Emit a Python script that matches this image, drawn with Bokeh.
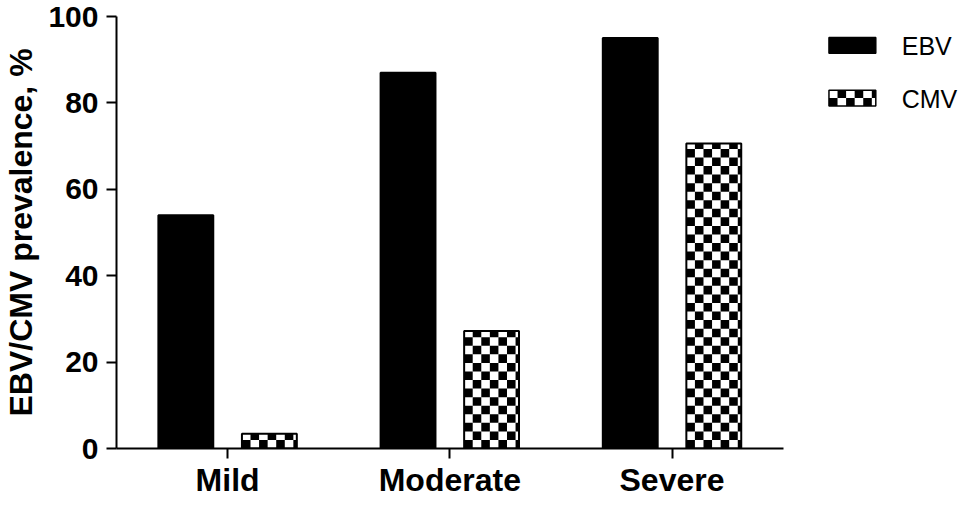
import numpy as np
from bokeh.plotting import figure
from bokeh.models import Range1d, FixedTicker, ColumnDataSource
from bokeh.core.properties import value
from bokeh.embed import file_html
from bokeh.resources import INLINE

categories = ["Mild", "Moderate", "Severe"]
ebv = [54, 87, 95]
cmv = [3.4, 27.2, 70.6]
series = ["EBV", "CMV"]
y_ticks = [0, 20, 40, 60, 80, 100]

FONT = "Liberation Sans"
W, H = 958, 500
B_LEFT, B_TOP, B_BOTTOM = 113, 16, 50
PX_X = 223.0                      # pixels per category
X_END = (W - B_LEFT) / PX_X
PX_Y = (H - B_TOP - B_BOTTOM) / 100.0

centers = np.arange(len(categories)) + 0.5
offset = 0.188
bar_w = 0.247
cell_w = 8.6 / PX_X
cell_h = 8.6 / PX_Y

p = figure(width=W, height=H, output_backend="svg", toolbar_location=None,
           x_range=Range1d(0, X_END), y_range=Range1d(0, 100),
           min_border_left=B_LEFT, min_border_right=0, min_border_top=B_TOP,
           min_border_bottom=B_BOTTOM)
p.outline_line_color = None
p.xgrid.visible = False
p.ygrid.visible = False


def checker_cells(x0, x1, y0, y1, cw, ch):
    """Checkerboard cells (black ones) filling the box x0..x1, y0..y1."""
    L, R, B, T = [], [], [], []
    ncol = int(np.ceil((x1 - x0) / cw - 1e-9))
    nrow = int(np.ceil((y1 - y0) / ch - 1e-9))
    for r in range(nrow):
        for c in range(ncol):
            if (r + c) % 2 == 0:
                L.append(x0 + c * cw)
                R.append(min(x0 + (c + 1) * cw, x1))
                B.append(y0 + r * ch)
                T.append(min(y0 + (r + 1) * ch, y1))
    return L, R, B, T


src = ColumnDataSource(dict(x_ebv=centers - offset, x_cmv=centers + offset,
                            ebv=ebv, cmv=cmv))

# EBV bars
p.vbar(x="x_ebv", top="ebv", width=bar_w, source=src, fill_color="black",
       line_color="black", line_width=2)

# CMV bars: white base, checker cells, outline
p.vbar(x="x_cmv", top="cmv", width=bar_w, source=src, fill_color="white",
       line_color=None)
cl, cr, cb, ct = [], [], [], []
for xc, v in zip(centers + offset, cmv):
    l, r, b, t = checker_cells(xc - bar_w / 2, xc + bar_w / 2, 0, v, cell_w, cell_h)
    cl += l; cr += r; cb += b; ct += t
p.quad(left=cl, right=cr, bottom=cb, top=ct, fill_color="black", line_color=None)
p.vbar(x="x_cmv", top="cmv", width=bar_w, source=src, fill_alpha=0,
       line_color="black", line_width=2)

# legend (drawn in the plot's coordinate system)
def dx(px):
    return (px - B_LEFT) / PX_X


def dy(px):
    return (H - B_BOTTOM - px) / PX_Y


sw_l, sw_r = dx(828), dx(875)
p.quad(left=[sw_l], right=[sw_r], top=[dy(37)], bottom=[dy(53)],
       fill_color="black", line_color="black", line_width=1.5)
p.quad(left=[sw_l], right=[sw_r], top=[dy(90)], bottom=[dy(106)],
       fill_color="white", line_color=None)
l, r, b, t = checker_cells(sw_l, sw_r, dy(106), dy(90), cell_w, (dy(90) - dy(106)) / 2)
p.quad(left=l, right=r, bottom=b, top=t, fill_color="black", line_color=None)
p.quad(left=[sw_l], right=[sw_r], top=[dy(90)], bottom=[dy(106)],
       fill_alpha=0, line_color="black", line_width=1.5)
p.text(x=[dx(901), dx(901)], y=[dy(46), dy(99)], text=series,
       text_font=value(FONT), text_font_size="25px", text_color="black",
       text_baseline="middle", text_align="left")

# axes
p.xaxis.ticker = FixedTicker(ticks=list(centers))
p.xaxis.major_label_overrides = {float(c): n for c, n in zip(centers, categories)}
p.xaxis.bounds = (0, len(categories))
p.yaxis.ticker = FixedTicker(ticks=y_ticks)
p.yaxis.bounds = (0, 100)
for ax in (p.xaxis[0], p.yaxis[0]):
    ax.axis_line_width = 2
    ax.axis_line_color = "black"
    ax.major_tick_line_width = 2
    ax.major_tick_line_color = "black"
    ax.major_tick_out = 10
    ax.major_tick_in = 0
    ax.minor_tick_line_color = None
    ax.major_label_text_font = FONT
    ax.major_label_text_font_style = "bold"
    ax.major_label_text_color = "black"
p.xaxis.major_label_text_font_size = "32px"
p.xaxis.major_label_standoff = 3
p.yaxis.major_label_text_font_size = "30px"
p.yaxis.major_label_standoff = 8
p.yaxis.axis_label = "EBV/CMV prevalence, %"
p.yaxis.axis_label_text_font = FONT
p.yaxis.axis_label_text_font_style = "bold"
p.yaxis.axis_label_text_font_size = "32px"
p.yaxis.axis_label_text_color = "black"
p.yaxis.axis_label_standoff = 6

open("out.html", "w").write(file_html(p, INLINE))
